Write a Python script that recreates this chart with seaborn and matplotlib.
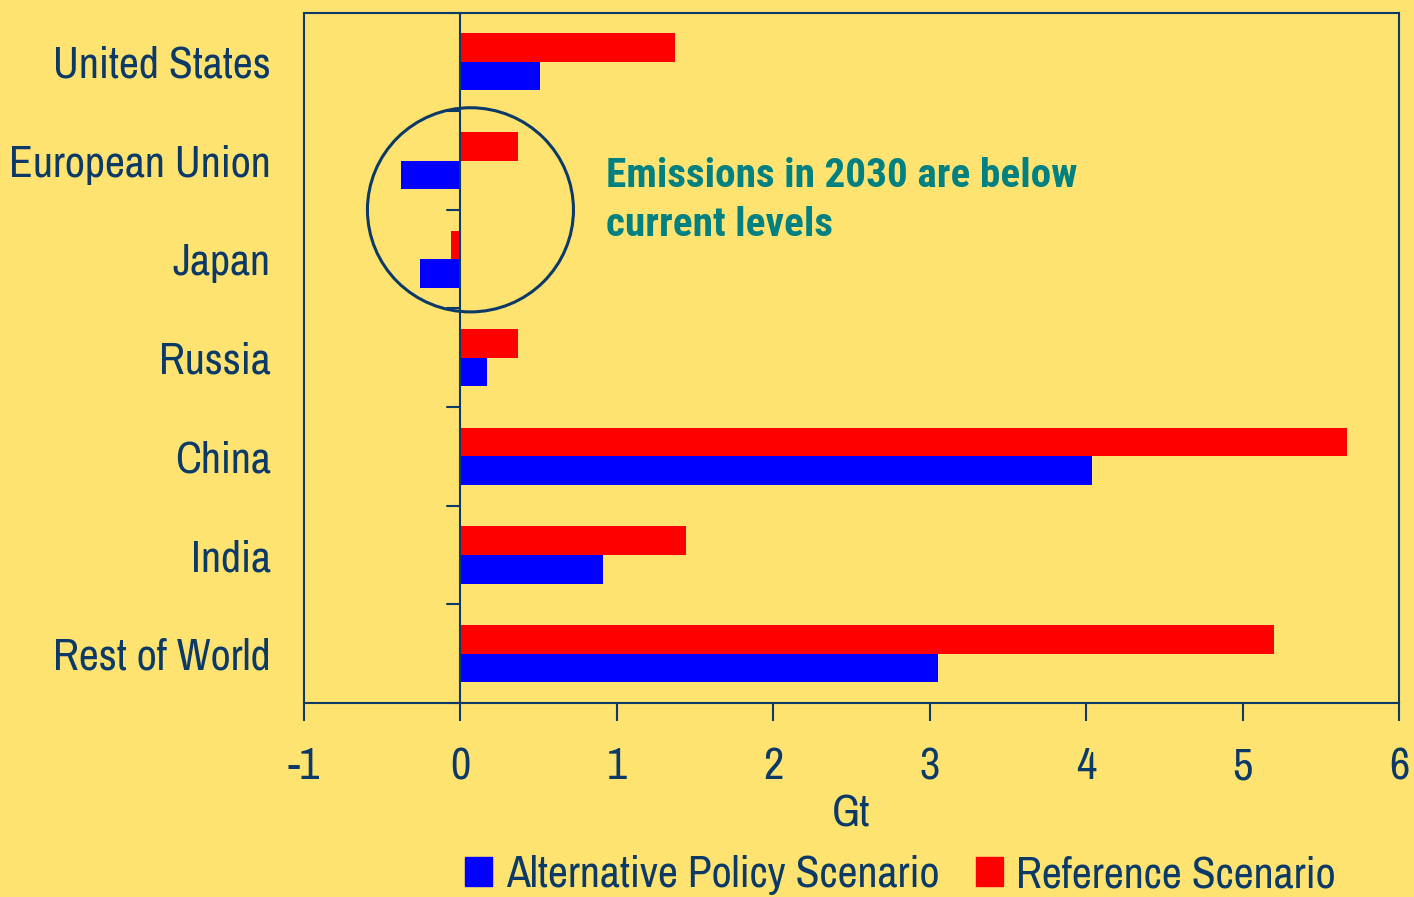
import numpy as np
import pandas as pd
import seaborn as sns
import matplotlib.pyplot as plt
from matplotlib.patches import Ellipse, Patch

# data (Gt, change 2030 vs today)
regions = ['United States', 'European Union', 'Japan', 'Russia', 'China', 'India', 'Rest of World']
reference = [1.37, 0.37, -0.06, 0.37, 5.67, 1.44, 5.20]
alternative = [0.51, -0.38, -0.26, 0.17, 4.04, 0.91, 3.05]
x_ticks = [-1, 0, 1, 2, 3, 4, 5, 6]

bg = '#FFE370'
navy = '#0B3A68'
teal = '#008080'

df = pd.DataFrame({
    'region': regions * 2,
    'value': reference + alternative,
    'scenario': ['Reference Scenario'] * len(regions) + ['Alternative Policy Scenario'] * len(regions),
})

sns.set_theme(style='white')
plt.rcParams['font.family'] = ['Archivo Narrow', 'DejaVu Sans']

fig = plt.figure(figsize=(14.14, 8.97), dpi=100, facecolor=bg)
ax = fig.add_axes([0.215, 0.2163, 0.7744, 0.7697])
ax.set_facecolor(bg)

sns.barplot(data=df, y='region', x='value', hue='scenario',
            hue_order=['Reference Scenario', 'Alternative Policy Scenario'],
            palette=['#FF0000', '#0000FF'], width=0.58, orient='h',
            saturation=1, linewidth=0, ax=ax, legend=False)

ax.set_xlim(-1, 6)
ax.set_ylim(6.5, -0.5)
ax.set_xticks(x_ticks)
ax.set_xticklabels([str(t) for t in x_ticks], fontsize=32, color=navy)
ax.tick_params(axis='x', direction='out', length=13, width=1.5, color=navy, pad=19, bottom=True)
ax.tick_params(axis='y', length=0, pad=24, labelsize=31.5, labelcolor=navy)
ax.set_ylabel('')
ax.set_xlabel('Gt', fontsize=32, color=navy, labelpad=5)
for s in ax.spines.values():
    s.set_visible(True)
    s.set_color(navy)
    s.set_linewidth(1.5)

# zero axis with its own ticks at category boundaries
ax.axvline(0, color=navy, lw=1.5, zorder=3)
for b in np.arange(-0.5, 7, 1.0):
    ax.plot([-0.085, 0], [b, b], color=navy, lw=1.5, zorder=3, clip_on=False)

# circle around EU and Japan
ax.add_patch(Ellipse((0.064, 1.5), 1.317, 2.07, fill=False, ec=navy, lw=2.2, zorder=4))
ax.text(0.93, 1.405, 'Emissions in 2030 are below\ncurrent levels', fontsize=29.7,
        family=['Roboto Condensed', 'DejaVu Sans'], fontweight='bold', color=teal,
        va='center', ha='left', linespacing=1.37)

handles = [Patch(color='#0000FF', label='Alternative Policy Scenario'),
           Patch(color='#FF0000', label='Reference Scenario')]
leg = fig.legend(handles=handles, loc='center', bbox_to_anchor=(0.637, 0.0245), ncol=2,
                 frameon=False, fontsize=31.5, handlelength=0.62, handleheight=0.62,
                 handletextpad=0.3, columnspacing=0.85, borderaxespad=0, borderpad=0)
for t in leg.get_texts():
    t.set_color(navy)

fig.savefig('out.png', dpi=100, facecolor=bg)
